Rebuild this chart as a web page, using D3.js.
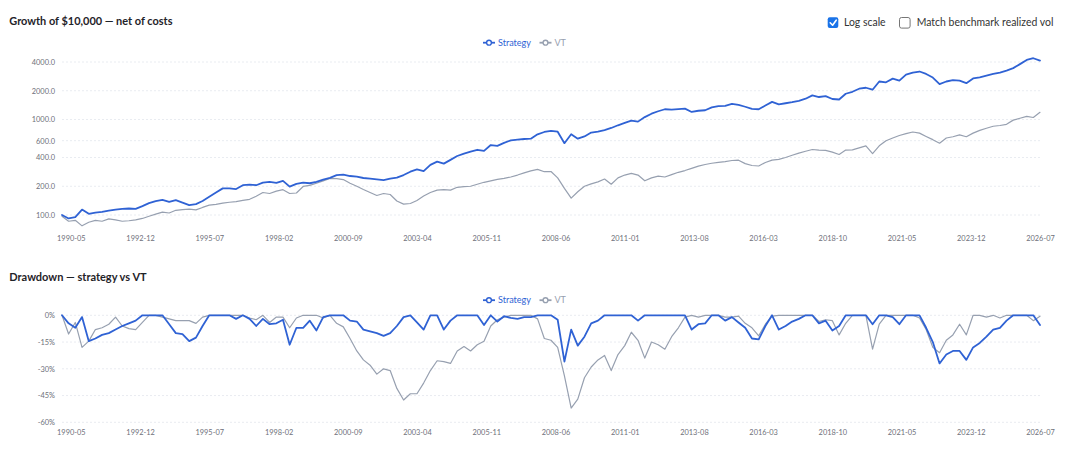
<!DOCTYPE html>
<html><head><meta charset="utf-8">
<script src="https://cdn.jsdelivr.net/npm/d3@7"></script>
<style>
html,body{margin:0;padding:0;background:#fff;}
svg{display:block;font-family:Lato,"Noto Sans",sans-serif;}
</style></head><body>
<svg id="c" width="1065" height="450"></svg>
<script>
// ---- data (quarterly samples, 1990-01 .. 2026-07) ----
const startMonth = "1990-01";
const endMonth = "2026-07";
const seriesNames = ["Strategy", "VT"];
const xTickLabels = ["1990-05","1992-12","1995-07","1998-02","2000-09","2003-04","2005-11",
  "2008-06","2011-01","2013-08","2016-03","2018-10","2021-05","2023-12","2026-07"];
const growthTicks = [100, 200, 400, 600, 1000, 2000, 4000];
const ddTicks = [0, -15, -30, -45, -60];

const strategyGrowth = [100,92,95,114,103,106,108,111,114,116,
117,116,124,133,140,144,137,143,135,127,
130,140,155,172,190,190,187,205,208,205,
218,222,217,228,198,212,218,215,222,235,
245,262,265,256,252,244,240,236,232,240,
246,262,284,300,288,335,362,345,378,415,
440,462,482,470,540,530,570,605,615,625,
630,700,740,762,745,565,700,630,665,730,
745,775,815,870,920,975,950,1060,1150,1220,
1280,1270,1285,1300,1200,1235,1250,1340,1380,1390,
1460,1420,1360,1290,1280,1400,1530,1440,1480,1520,
1570,1650,1790,1720,1760,1640,1620,1860,1950,2100,
2150,2050,2500,2450,2680,2550,2950,3100,3180,3000,
2750,2350,2500,2580,2550,2400,2690,2760,2880,3000,
3100,3250,3450,3800,4200,4380,4140];

const vtGrowth = [97,86,88,77,84,88,86,91,89,86,
87,89,92,97,102,107,105,112,114,115,
113,120,127,129,133,136,138,142,146,157,
172,168,178,184,168,170,199,204,215,228,
242,240,235,215,200,185,172,160,168,164,
140,130,132,142,158,172,182,184,182,195,
198,200,210,220,228,236,242,250,262,276,
290,300,284,285,245,190,150,175,200,212,
222,238,210,245,262,273,262,228,245,255,
250,265,280,292,308,325,338,348,355,362,
372,375,345,330,326,355,375,382,400,422,
445,465,485,478,475,455,430,478,480,505,
530,440,530,600,640,680,710,740,720,665,
615,565,640,660,690,660,720,770,810,850,
865,890,985,1030,1080,1050,1190];

const strategyDD = [0,-4.5,-7,-1,-14.5,-13,-11,-10,-8,-6,
-4.5,-3,0,0,0,0,-5,-10,-10.5,-14.5,
-12.5,-6,0,0,0,0,-2,0,-2,-6,
-2,-5,-4.5,-2.5,-16.5,-7,-7,-3,-8.5,-1,
0,0,0,-3,-3.5,-8,-9,-10,-11.5,-10,
-6,-1,0,-4,-8,0,0,-8,-3,0,
0,0,0,-5.4,0,-3.5,-0.5,-1.5,-2,-1,
-1,0,0,0,-2.5,-26,-8,-17,-12,-4.5,
-3,0,0,0,0,0,-3,0,0,0,
0,0,0,0,-8,-5,-4.5,0,0,-3,
-1,-4,-7,-13,-13.5,-6,0,-8,-6,-3.5,
-2,0,0,-4.5,-3,-8.5,-6,0,0,0,
0,-5,0,0,-1,-5,0,0,0,-7,
-15,-27,-22,-20,-20,-25,-18,-15.5,-12,-8,
-7,-3,0,0,0,0,-5.5];

const vtDD = [0,-10.5,-4,-18,-14.5,-8,-7,-5,-1,-6,
-7.5,-8,-4,0,0,-1,-2,-3,-3,-3,
-4.5,-1,0,0,0,0,0,0,-1.5,-2.5,
0,-4,-1,-1,-7,-1.5,0,0,0,-1.5,
0,-4.5,-6.5,-13,-20,-25,-28,-33,-30,-31,
-41,-47.5,-44,-44,-38,-31,-25.5,-26,-27,-20,
-17.5,-20,-16.5,-14.5,-6,-2.5,-1,0,0,0,
0,-2,-13,-14,-18,-34,-52,-47,-35,-29,
-25,-22.5,-31,-22,-17,-9.5,-14,-24,-15,-16.5,
-19,-12,-7,-1,0,-1,0,0,0,-1,
-1,-0.5,-4.5,-7,-11.5,-5,-0.5,0,0,0,
0,0,0,-3.5,-2.5,-3,-11,-4.5,0,0,
0,-19,-5,0,0,0,0,0,-1.5,-8,
-18,-21,-14,-11,-5,-11,0,0,-1,0,
-1.5,0,0,0,0,-3,-0.5];

// ---- styling ----
const COLORS = {Strategy: "#2f62d4", VT: "#97a0b0"};
const WIDTHS = {Strategy: 1.8, VT: 1.2};
const AXIS_COLOR = "#6e7079";

const svg = d3.select("#c");
const parseM = d3.timeParse("%Y-%m");
const quarters = d3.timeMonth.every(3).range(parseM(startMonth), d3.timeMonth.offset(parseM(endMonth), 1));

const x = d3.scaleTime().domain([parseM(startMonth), parseM(endMonth)]).range([62, 1040]);

function fit(sel, target) {
  const w = sel.node().getComputedTextLength();
  const fs = parseFloat(sel.attr("font-size"));
  const nfs = fs * target / w;
  sel.attr("font-size", nfs);
  return nfs;
}

// measure axis font size
const probe = svg.append("text").attr("font-size", 10).text("4000.0");
const axisFS = fit(probe, 23.3);
probe.remove();
const probeL = svg.append("text").attr("font-size", 10).text("Strategy");
const legendFS = fit(probeL, 33);
probeL.remove();

function panel(opts) {
  const g = svg.append("g");
  const y = opts.y;
  // grid
  g.selectAll("line.grid").data(opts.ticks).join("line")
    .attr("x1", 62).attr("x2", 1040)
    .attr("y1", d => y(d)).attr("y2", d => y(d))
    .attr("stroke", "#e9ecf1").attr("stroke-width", 1).attr("stroke-dasharray", "2,2");
  // y axis labels
  const yAxis = d3.axisLeft(y).tickValues(opts.ticks).tickFormat(opts.fmt).tickSize(0).tickPadding(0);
  const ya = g.append("g").attr("transform", "translate(55,0)").call(yAxis);
  ya.select(".domain").remove();
  ya.selectAll("text").attr("fill", AXIS_COLOR).attr("font-size", axisFS).attr("font-family", "Lato,'Noto Sans',sans-serif");
  // x axis labels
  const xAxis = d3.axisBottom(x).tickValues(xTickLabels.map(parseM)).tickFormat(d3.timeFormat("%Y-%m")).tickSize(0).tickPadding(0);
  const xa = g.append("g").attr("transform", `translate(0,${opts.xLabelY})`).call(xAxis);
  xa.select(".domain").remove();
  xa.selectAll("text").attr("fill", AXIS_COLOR).attr("font-size", axisFS).attr("dy", "0.35em").attr("font-family", "Lato,'Noto Sans',sans-serif");
  // lines
  const line = d3.line().x((d, i) => x(quarters[i])).y(d => y(d)).curve(d3.curveLinear);
  [["VT", opts.vt], ["Strategy", opts.strat]].forEach(([name, vals]) => {
    g.append("path").datum(vals).attr("d", line)
      .attr("fill", "none").attr("stroke", COLORS[name]).attr("stroke-width", WIDTHS[name])
      .attr("stroke-linejoin", "round").attr("stroke-linecap", "round");
  });
  // title
  const t = g.append("text").attr("x", 9.3).attr("y", opts.titleY).attr("font-weight", 700)
    .attr("font-size", 11).attr("fill", "#1f2329").text(opts.title);
  fit(t, opts.titleW);
  // legend
  const lg = g.append("g").attr("transform", `translate(483,${opts.legendY})`);
  const items = [{name: "Strategy", x: 0}, {name: "VT", x: 56.5}];
  items.forEach(it => {
    const c = COLORS[it.name];
    lg.append("line").attr("x1", it.x).attr("x2", it.x + 12).attr("y1", 0).attr("y2", 0)
      .attr("stroke", c).attr("stroke-width", 1.8);
    lg.append("circle").attr("cx", it.x + 6).attr("cy", 0).attr("r", 2.4)
      .attr("fill", "#fff").attr("stroke", c).attr("stroke-width", 1.4);
    lg.append("text").attr("x", it.x + 15).attr("y", 0).attr("dy", "0.35em")
      .attr("font-size", legendFS).attr("fill", c).text(it.name);
  });
}

panel({
  y: d3.scaleLog().domain([100, 4000]).range([215, 62]),
  ticks: growthTicks, fmt: d3.format(".1f"),
  strat: strategyGrowth, vt: vtGrowth,
  xLabelY: 238.5, title: "Growth of $10,000 \u2014 net of costs", titleY: 24.6, titleW: 163.4,
  legendY: 42.7
});
panel({
  y: d3.scaleLinear().domain([0, -60]).range([315.3, 422.3]),
  ticks: ddTicks, fmt: d => d + "%",
  strat: strategyDD, vt: vtDD,
  xLabelY: 432.5, title: "Drawdown \u2014 strategy vs VT", titleY: 281, titleW: 137.4,
  legendY: 300.2
});

// ---- checkboxes ----
const cb = svg.append("g");
cb.append("rect").attr("x", 827.7).attr("y", 17.3).attr("width", 10.6).attr("height", 10.6)
  .attr("rx", 2).attr("fill", "#1a73e8");
cb.append("path").attr("d", "M830.2,22.8 L832.6,25.2 L836.2,20.2")
  .attr("fill", "none").attr("stroke", "#fff").attr("stroke-width", 1.6)
  .attr("stroke-linecap", "round").attr("stroke-linejoin", "round");
const t1 = cb.append("text").attr("x", 844).attr("y", 22.6).attr("dy", "0.35em")
  .attr("font-size", 11).attr("fill", "#333").text("Log scale");
const cbFS = fit(t1, 41.7);
cb.append("rect").attr("x", 899.5).attr("y", 17.5).attr("width", 10.6).attr("height", 10.6)
  .attr("rx", 2).attr("fill", "#fff").attr("stroke", "#767676").attr("stroke-width", 1);
cb.append("text").attr("x", 916.7).attr("y", 22.6).attr("dy", "0.35em")
  .attr("font-size", cbFS).attr("fill", "#333").text("Match benchmark realized vol");
</script>
</body></html>
